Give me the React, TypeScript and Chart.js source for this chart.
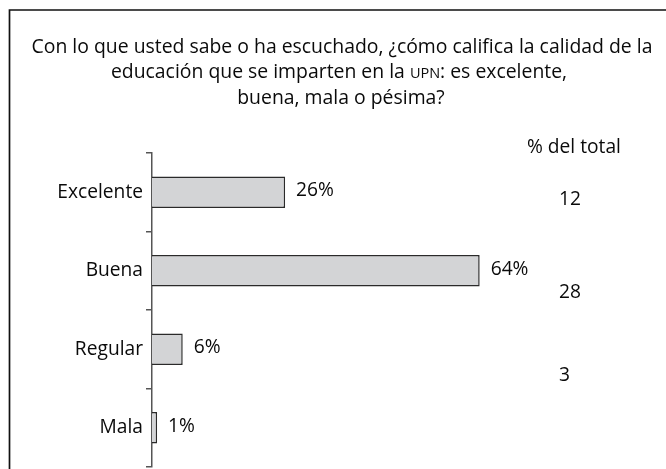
import React, { useEffect, useRef } from 'react';
import { Chart, registerables } from 'chart.js';

Chart.register(...registerables);

const categories = ['Excelente', 'Buena', 'Regular', 'Mala'];
const values = [26, 64, 6, 1];
const totalHeader = '% del total';
const totalValues = ['12', '28', '3', ''];
const titleLine1 = 'Con lo que usted sabe o ha escuchado, ¿cómo califica la calidad de la';
const titleLine2a = 'educación que se imparten en la ';
const titleLine2b = 'UPN';
const titleLine2c = ': es excelente,';
const titleLine3 = 'buena, mala o pésima?';

const FONT = '"Open Sans", Lato, sans-serif';
const TEXT = '#0a0a0a';

const decorPlugin = {
  id: 'decor',
  afterDraw(chart: any) {
    const ctx = chart.ctx;
    ctx.save();
    // frame
    ctx.strokeStyle = '#111';
    ctx.lineWidth = 1.7;
    ctx.beginPath();
    ctx.moveTo(9.5, 469);
    ctx.lineTo(9.5, 10);
    ctx.lineTo(666, 10);
    ctx.stroke();

    ctx.fillStyle = TEXT;
    ctx.textBaseline = 'middle';
    // title
    const big = `19.4px ${FONT}`;
    const small = `14.5px ${FONT}`;
    ctx.font = big;
    ctx.textAlign = 'center';
    ctx.fillText(titleLine1, 342, 47);
    // line 2 with small caps UPN
    const wa = ctx.measureText(titleLine2a).width;
    const wc = ctx.measureText(titleLine2c).width;
    ctx.font = small;
    const wb = ctx.measureText(titleLine2b).width;
    let x = 339 - (wa + wb + wc) / 2;
    ctx.textAlign = 'left';
    ctx.font = big;
    ctx.fillText(titleLine2a, x, 72.5);
    x += wa;
    ctx.font = small;
    ctx.fillText(titleLine2b, x, 73.5);
    x += wb;
    ctx.font = big;
    ctx.fillText(titleLine2c, x, 72.5);
    ctx.textAlign = 'center';
    ctx.fillText(titleLine3, 341, 98.5);

    // value labels
    ctx.font = `19.2px ${FONT}`;
    ctx.textAlign = 'left';
    const meta = chart.getDatasetMeta(0);
    meta.data.forEach((bar: any, i: number) => {
      ctx.fillText(`${values[i]}%`, bar.x + 11, bar.y - 1.5);
    });

    // right column
    ctx.fillText(totalHeader, 527, 148);
    const offsets = [7, 22, 26, 0];
    meta.data.forEach((bar: any, i: number) => {
      if (totalValues[i]) ctx.fillText(totalValues[i], 559, bar.y + offsets[i]);
    });
    ctx.restore();
  },
};

export default function App() {
  const ref = useRef<HTMLCanvasElement>(null);
  useEffect(() => {
    if (!ref.current) return;
    const chart = new Chart(ref.current, {
      type: 'bar',
      data: {
        labels: categories,
        datasets: [
          {
            data: values,
            backgroundColor: '#d3d4d6',
            borderColor: '#2a2a2a',
            borderWidth: 1.5,
            barPercentage: 0.4,
            categoryPercentage: 1,
          },
        ],
      },
      options: {
        indexAxis: 'y',
        responsive: false,
        animation: false,
        layout: { padding: { left: 0, right: 2, top: 153, bottom: 2 } },
        plugins: { legend: { display: false }, tooltip: { enabled: false }, title: { display: false } },
        scales: {
          x: { display: false, min: 0, max: 100 },
          y: {
            afterFit: (scale: any) => {
              scale.width = 152;
              scale.paddingTop = 0;
              scale.paddingBottom = 0;
            },
            border: { display: true, color: '#555', width: 1.5 },
            grid: { display: true, drawOnChartArea: false, drawTicks: true, tickLength: 6, color: '#555', lineWidth: 1.5 },
            ticks: { color: TEXT, padding: 3, font: { family: FONT, size: 19.2 } },
          },
        },
      },
      plugins: [decorPlugin],
    });
    return () => chart.destroy();
  }, []);
  return (
    <div style={{ position: 'fixed', left: 0, top: 0, width: 666, height: 469, overflow: 'hidden', background: '#fff' }}>
      <canvas ref={ref} width={666} height={469} style={{ width: 666, height: 469, display: 'block' }} />
    </div>
  );
}
